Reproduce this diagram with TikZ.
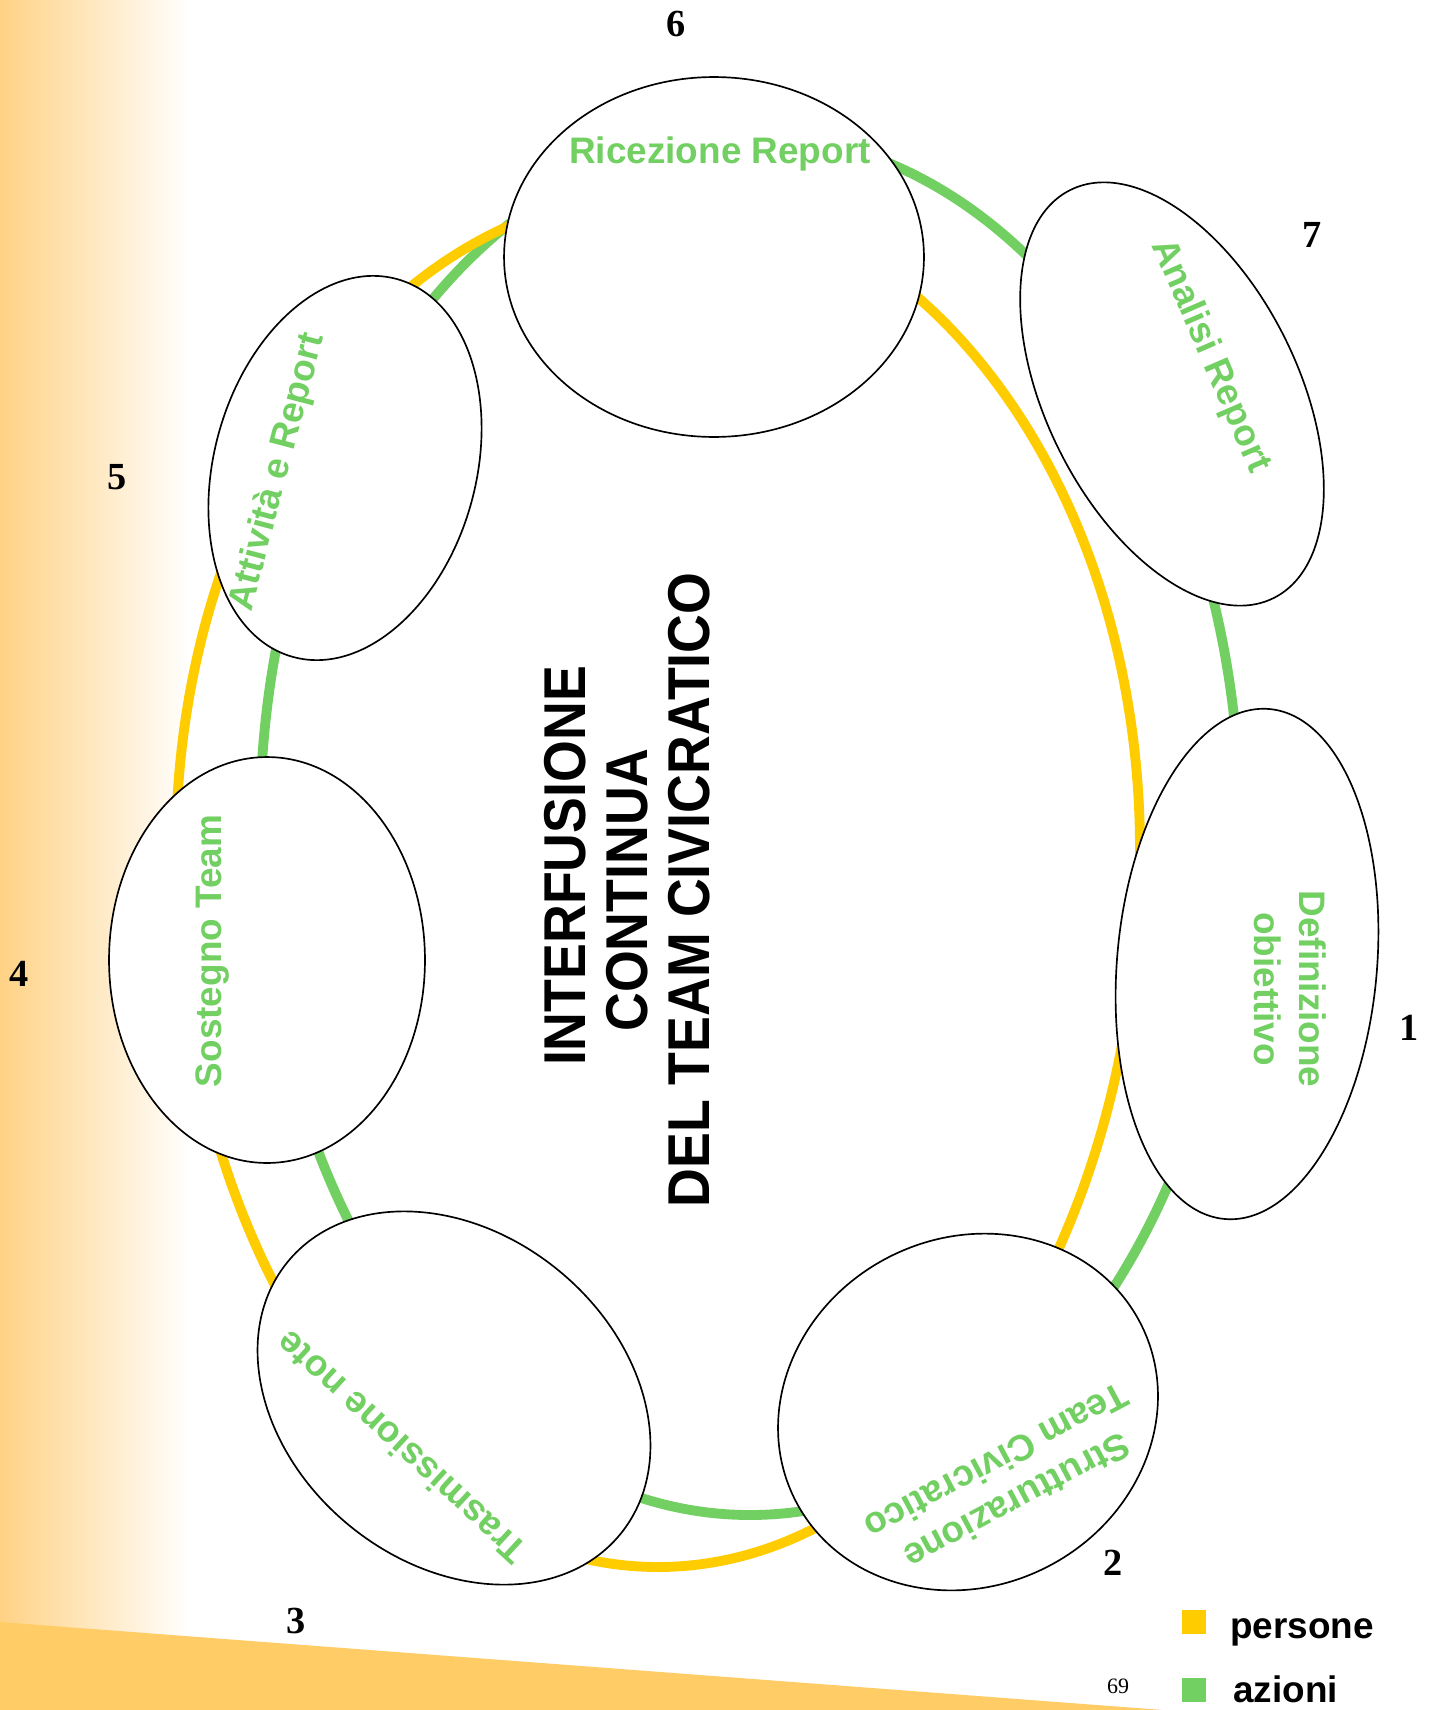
\documentclass[tikz,border=0pt]{standalone}
\usepackage{fontspec}
\setmainfont{Liberation Sans}
\newfontfamily\numfont{Liberation Serif}
\newfontfamily\condfont[FakeStretch=0.91]{Liberation Sans}
\usetikzlibrary{shapes.geometric,calc}
\definecolor{giallo}{HTML}{FFCC00}
\definecolor{verde}{HTML}{72CF62}
\definecolor{fondo}{HTML}{FFD285}
\definecolor{banda}{HTML}{FFCC66}

\begin{document}
\begin{tikzpicture}[x=0.02cm,y=-0.02cm,
  tappa node/.style={ellipse,draw,fill=white,line width=0.95pt,inner sep=0pt},
  etichetta/.style={text=verde,align=center,font=\fontsize{21}{25.5}\selectfont\bfseries},
  numero/.style={font=\numfont\fontsize{21.8}{24}\selectfont\bfseries},
  legenda/.style={inner sep=0pt,font=\fontsize{21}{24}\selectfont\bfseries},
  anello/.style={line width=5.6pt}]

  \useasboundingbox (0,0) rectangle (1432,1710);
  \fill[white] (0,0) rectangle (1432,1710);
  \shade[left color=fondo,right color=white] (0,0) rectangle (190,1710);
  \fill[banda] (0,1622) -- (1163,1710) -- (0,1710) -- cycle;

  % anelli: azioni (verde) e persone (giallo)
  \coordinate (ca) at (750,825);
  \coordinate (cp) at (658,850);
  \draw[anello,verde] (ca) ellipse [x radius=490,y radius=690];
  \draw[anello,giallo] ($(cp)+(-482,0)$) arc [start angle=180,end angle=360,x radius=482,y radius=656]
    arc [start angle=0,end angle=180,x radius=482,y radius=717];

  % tappe
  \node[tappa node,minimum width=8.4cm,minimum height=7.2cm] (t6) at (714,257) {};
  \node[tappa node,minimum width=9.12cm,minimum height=5.04cm,rotate=-63.5] (t7) at (1172,394) {};
  \node[tappa node,minimum width=10.24cm,minimum height=5.2cm,rotate=85] (t1) at (1247,964) {};
  \node[tappa node,minimum width=7.76cm,minimum height=6.96cm,rotate=27.3] (t2) at (968,1412) {};
  \node[tappa node,minimum width=8.6cm,minimum height=6.6cm,rotate=-39.3] (t3) at (454,1398) {};
  \node[tappa node,minimum width=6.32cm,minimum height=8.12cm] (t4) at (267,960) {};
  \node[tappa node,minimum width=7.84cm,minimum height=5.24cm,rotate=74.6] (t5) at (345,468) {};

  \node[etichetta] (e6) at (720,154) {Ricezione Report};
  \node[etichetta,rotate=-66.6] (e7) at (1210,356) {Analisi Report};
  \node[etichetta,rotate=-90] (e1) at (1290,989) {Definizione\\obiettivo};
  \node[etichetta,rotate=208] (e2) at (1007,1482) {Strutturazione\\Team Civicratico};
  \node[etichetta,rotate=137.4] (e3) at (401,1448) {Trasmissione note};
  \node[etichetta,rotate=90] (e4) at (213,951) {Sostegno Team};
  \node[etichetta,rotate=75.3] (e5) at (278,472) {Attività e Report};

  \node[rotate=90,align=center,font=\condfont\fontsize{33.6}{35.2}\selectfont\bfseries] (titolo) at (627,890)
    {\hspace*{0.96cm}INTERFUSIONE\\CONTINUA\\DEL TEAM CIVICRATICO};

  % numeri
  \node[numero] (n1) at (1409,1028) {1};
  \node[numero] (n2) at (1113,1563) {2};
  \node[numero] (n3) at (296,1621) {3};
  \node[numero] (n4) at (19,974) {4};
  \node[numero] (n5) at (117,477) {5};
  \node[numero] (n6) at (676,24) {6};
  \node[numero] (n7) at (1312,235) {7};

  \node[font=\numfont\fontsize{12.5}{14}\selectfont] (pag) at (1118,1686) {69};

  % legenda
  \node[fill=giallo,inner sep=0pt,minimum size=0.48cm] (qp) at (1194,1622) {};
  \node[fill=verde,inner sep=0pt,minimum size=0.48cm] (qa) at (1194,1690) {};
  \node[legenda,anchor=base west] (lp) at (1230,1638) {persone};
  \node[legenda,anchor=base west] (la) at (1233,1702) {azioni};
\end{tikzpicture}
\end{document}
